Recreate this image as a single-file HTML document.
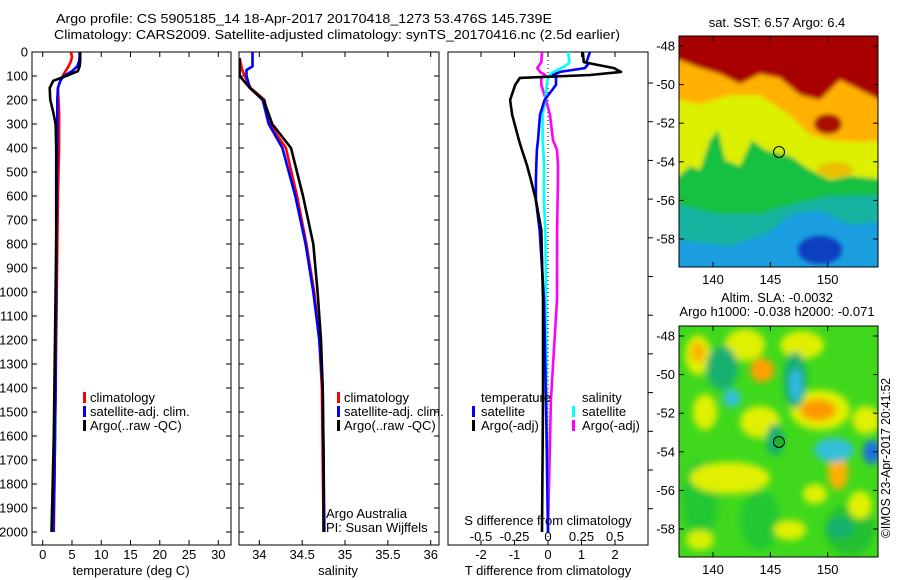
<!DOCTYPE html>
<html><head><meta charset="utf-8"><style>
body{margin:0;background:#fff}
svg{display:block;font-family:"Liberation Sans",sans-serif;font-size:13px}
</style></head><body>
<svg id="fig" width="900" height="580" viewBox="0 0 900 580" xmlns="http://www.w3.org/2000/svg">
<defs>
<filter id="b3" x="-10%" y="-10%" width="120%" height="120%"><feGaussianBlur stdDeviation="2"/></filter>
<filter id="b6" x="-50%" y="-50%" width="200%" height="200%"><feGaussianBlur stdDeviation="3.5"/></filter>
<clipPath id="c1"><rect x="679" y="36" width="199" height="231"/></clipPath>
<clipPath id="c2"><rect x="679" y="326" width="199" height="231"/></clipPath>
<clipPath id="p1"><rect x="32" y="52" width="199" height="493"/></clipPath>
<clipPath id="p2"><rect x="239" y="52" width="200" height="493"/></clipPath>
<clipPath id="p3"><rect x="448" y="52" width="200" height="493"/></clipPath>
</defs>
<text x="56" y="23" textLength="496" lengthAdjust="spacingAndGlyphs">Argo profile: CS 5905185_14 18-Apr-2017 20170418_1273 53.476S 145.739E</text>
<text x="54" y="39" textLength="566" lengthAdjust="spacingAndGlyphs">Climatology: CARS2009. Satellite-adjusted climatology: synTS_20170416.nc (2.5d earlier)</text>

<!-- SST map -->
<g clip-path="url(#c1)">
<rect x="679" y="36" width="199" height="231" fill="#1a9ee0"/>
<g filter="url(#b3)">
<polygon fill="#12b4a0" points="670,30 890,30 890,220 850,225 820,210 790,215 770,232 730,246 679,240 670,240"/>
<polygon fill="#14c040" points="670,30 890,30 890,195 830,196 800,202 760,214 720,214 679,205 670,205"/>
<polygon fill="#dcf000" points="670,30 890,30 890,180 850,176 830,180 810,170 790,156 765,150 752,140 740,166 725,160 718,130 710,140 700,170 690,166 679,176 670,176"/>
<polygon fill="#ffb000" points="670,30 890,30 890,140 860,142 830,140 810,135 790,115 760,95 730,95 700,104 679,100 670,100"/>
<polygon fill="#a80000" points="670,30 890,30 890,105 860,90 840,80 820,100 800,95 780,78 760,74 740,84 720,74 700,68 679,60 670,60"/>
<ellipse cx="828" cy="124" rx="14" ry="10" fill="#a81000"/>
<ellipse cx="835" cy="170" rx="18" ry="8" fill="#f0a000" opacity="0.6"/>
<ellipse cx="820" cy="250" rx="22" ry="14" fill="#0a40c0"/>
</g>
</g>
<rect x="679" y="36" width="199" height="231" fill="none" stroke="#000"/>
<circle cx="779" cy="152" r="5.5" fill="none" stroke="#000"/>
<text x="777" y="27" text-anchor="middle">sat. SST: 6.57 Argo: 6.4</text>

<!-- SLA map -->
<g clip-path="url(#c2)">
<rect x="679" y="326" width="199" height="231" fill="#40d81c"/>
<g filter="url(#b6)">
<ellipse cx="700" cy="500" rx="18" ry="40" fill="#20c830"/>
<ellipse cx="760" cy="520" rx="20" ry="30" fill="#20c830"/>
<ellipse cx="850" cy="530" rx="25" ry="25" fill="#20c030"/>
<ellipse cx="698" cy="355" rx="13" ry="20" fill="#e0f000"/><ellipse cx="698" cy="352" rx="7" ry="10" fill="#ffb000"/>
<ellipse cx="745" cy="345" rx="20" ry="16" fill="#e0f000"/>
<ellipse cx="762" cy="370" rx="12" ry="12" fill="#ffa000"/>
<ellipse cx="802" cy="345" rx="22" ry="14" fill="#e0f000"/>
<ellipse cx="820" cy="410" rx="30" ry="20" fill="#e0f000"/>
<ellipse cx="818" cy="410" rx="18" ry="11" fill="#ff9800"/>
<ellipse cx="760" cy="422" rx="20" ry="16" fill="#e0f000"/>
<ellipse cx="705" cy="412" rx="12" ry="18" fill="#e0f000"/>
<ellipse cx="730" cy="478" rx="40" ry="16" fill="#e0f000"/>
<ellipse cx="838" cy="472" rx="10" ry="18" fill="#ffb000"/>
<ellipse cx="815" cy="494" rx="12" ry="10" fill="#e0f000"/>
<ellipse cx="866" cy="420" rx="14" ry="14" fill="#e0f000"/>
<ellipse cx="790" cy="530" rx="16" ry="10" fill="#e0f000"/>
<ellipse cx="700" cy="540" rx="14" ry="10" fill="#d8f000"/>
<ellipse cx="860" cy="505" rx="12" ry="14" fill="#e0f000"/>
<ellipse cx="722" cy="368" rx="16" ry="22" fill="#14b070"/><ellipse cx="732" cy="398" rx="9" ry="9" fill="#30c0d8"/>
<ellipse cx="795" cy="380" rx="12" ry="28" fill="#14b070"/><ellipse cx="796" cy="385" rx="6" ry="16" fill="#30b8e8"/>
<ellipse cx="834" cy="450" rx="20" ry="12" fill="#30c0d8"/>
<ellipse cx="872" cy="452" rx="9" ry="12" fill="#1a70e0"/>
<ellipse cx="775" cy="440" rx="9" ry="16" fill="#14b070"/>
<ellipse cx="840" cy="528" rx="14" ry="10" fill="#14b070"/>
</g>
</g>
<rect x="679" y="326" width="199" height="231" fill="none" stroke="#000"/>
<circle cx="779" cy="442" r="5.5" fill="#20b030" stroke="#000"/>
<text x="777" y="302" text-anchor="middle">Altim. SLA: -0.0032</text>
<text x="777" y="316" text-anchor="middle">Argo h1000: -0.038 h2000: -0.071</text>
<text transform="translate(890,538) rotate(-90)" textLength="160" lengthAdjust="spacingAndGlyphs">©IMOS 23-Apr-2017 20:41:52</text>

<g id="plots"></g>

<!-- legends -->
<g>
<rect x="83" y="392" width="3" height="11" fill="#f00"/><text x="90" y="402">climatology</text>
<rect x="83" y="406" width="3" height="11" fill="#00f"/><text x="90" y="416">satellite-adj. clim.</text>
<rect x="83" y="420" width="3" height="11" fill="#000"/><text x="90" y="430">Argo(..raw -QC)</text>
</g>
<g>
<rect x="337" y="392" width="3" height="11" fill="#f00"/><text x="344" y="402">climatology</text>
<rect x="337" y="406" width="3" height="11" fill="#00f"/><text x="344" y="416">satellite-adj. clim.</text>
<rect x="337" y="420" width="3" height="11" fill="#000"/><text x="344" y="430">Argo(..raw -QC)</text>
</g>
<text x="326" y="518">Argo Australia</text>
<text x="326" y="532">PI: Susan Wijffels</text>
<g>
<text x="481" y="402">temperature</text><text x="582" y="402">salinity</text>
<rect x="472" y="406" width="3" height="11" fill="#00f"/><text x="481" y="416">satellite</text>
<rect x="472" y="420" width="3" height="11" fill="#000"/><text x="481" y="430">Argo(-adj)</text>
<rect x="572" y="406" width="3" height="11" fill="#0ff"/><text x="582" y="416">satellite</text>
<rect x="572" y="420" width="3" height="11" fill="#f0f"/><text x="582" y="430">Argo(-adj)</text>
</g>
<text x="548" y="525" text-anchor="middle">S difference from climatology</text>
<text x="131" y="575" text-anchor="middle">temperature (deg C)</text>
<text x="338" y="575" text-anchor="middle">salinity</text>
<text x="548" y="575" text-anchor="middle">T difference from climatology</text>
</svg>
<script>
// ---- data ----
const tDepth = [0,20,40,60,80,100,120,150,200,250,300,400,500,600,800,1000,1200,1400,1600,1800,2000];
const tArgo  = [6.4,6.4,6.4,6.3,6.0,4.0,1.8,1.2,1.3,1.8,2.2,2.3,2.3,2.3,2.3,2.2,2.1,2.0,1.9,1.7,1.5];
const tClim  = [4.8,5.0,4.8,4.4,3.9,3.4,3.0,2.6,2.7,2.8,2.8,2.8,2.7,2.6,2.5,2.4,2.3,2.2,2.1,2.0,1.9];
const tSat   = [6.3,6.3,6.2,5.9,5.0,3.6,3.0,2.6,2.5,2.5,2.5,2.5,2.4,2.4,2.3,2.3,2.2,2.2,2.1,2.0,1.8];
const sDepth = [25,75,100,150,200,300,400,600,800,1000,1200,1400,1700,2000];
const sArgo  = [33.77,33.77,33.77,33.89,34.05,34.15,34.37,34.51,34.63,34.68,34.72,34.74,34.75,34.75];
const sClim  = [33.77,33.80,33.83,33.9,34.06,34.12,34.31,34.44,34.55,34.64,34.70,34.73,34.74,34.75];
const sSatD  = [0,60,75,100,150,200,300,400,600,800,1000,1200,1400,1700,2000];
const sSat   = [33.92,33.92,33.85,33.85,33.89,34.04,34.11,34.27,34.42,34.54,34.63,34.70,34.74,34.75,34.76];
const dDepth = [0,42,50,67,83,96,108,137,200,262,367,408,471,533,617,742,1033,1450,2000];
const dTArgo = [1.04,1.07,1.35,1.97,2.18,1.25,-0.84,-0.98,-1.13,-1.07,-0.87,-0.78,-0.63,-0.51,-0.36,-0.2,-0.15,-0.15,-0.18];
const dTSat  = [1.25,1.15,1.2,1.1,0.36,0.15,0.24,0.24,-0.1,-0.24,-0.3,-0.33,-0.35,-0.36,-0.36,-0.25,-0.12,-0.06,0.0];
const dSSat  = [0.15,0.16,0.15,0.1,0.04,0.01,0.0,-0.01,-0.02,-0.04,-0.04,-0.035,-0.03,-0.03,-0.03,-0.02,-0.015,-0.01,0.0];
const dSArgo = [-0.045,-0.05,-0.06,-0.08,-0.06,-0.02,-0.05,-0.05,-0.015,0.015,0.037,0.067,0.075,0.075,0.072,0.068,0.067,0.022,0.0];
const depthTicks = [0,100,200,300,400,500,600,700,800,900,1000,1100,1200,1300,1400,1500,1600,1700,1800,1900,2000];
const tTicks = [0,5,10,15,20,25,30];
const sTicks = [34,34.5,35,35.5,36];
const sTickLabels = ["34","34.5","35","35.5","36"];
const dtTicks = [-2,-1,0,1,2];
const dsTicks = [-0.5,-0.25,0,0.25,0.5];

// ---- scales ----
const Y = d => 52 + d*0.24;
const XT = t => 32 + (t+1.83)*5.853;
const XS = s => 239 + (s-33.763)*85.7;
const XDT = v => 548 + v*33.5;
const XDS = v => 548 + v*134;

const NS="http://www.w3.org/2000/svg";
const root=document.getElementById('plots');
function el(tag,attrs,parent){const e=document.createElementNS(NS,tag);for(const k in attrs)e.setAttribute(k,attrs[k]);(parent||root).appendChild(e);return e;}
function txt(x,y,s,anchor,parent){const t=el('text',{x:x,y:y,'text-anchor':anchor||'middle'},parent);t.textContent=s;return t;}

function panel(x0,w,name){
  const g=el('g',{});
  
  
  el('rect',{x:x0,y:52,width:w,height:493,fill:'none',stroke:'#000'},g);
  return g;
}
function line(g,xs,ds,fx,color,clip,name){
  const pts=xs.map((v,i)=>fx(v).toFixed(1)+','+Y(ds[i]).toFixed(1)).join(' ');
  const p=el('polyline',{points:pts,fill:'none',stroke:color,'stroke-width':2.6,'stroke-linejoin':'round','clip-path':'url(#'+clip+')'},g);
  
  
}

// panel 1
const g1=panel(32,199,'temperature-panel');
depthTicks.forEach(d=>{el('line',{x1:32,x2:37,y1:Y(d),y2:Y(d),stroke:'#000'},g1);el('line',{x1:226,x2:231,y1:Y(d),y2:Y(d),stroke:'#000'},g1);txt(28,Y(d)+4.5,String(d),'end',g1);});
tTicks.forEach(t=>{el('line',{x1:XT(t),x2:XT(t),y1:52,y2:57,stroke:'#000'},g1);el('line',{x1:XT(t),x2:XT(t),y1:540,y2:545,stroke:'#000'},g1);txt(XT(t),559,String(t),'middle',g1);});
line(g1,tClim,tDepth,XT,'#f00','p1','temperature-climatology-line');
line(g1,tSat,tDepth,XT,'#00f','p1','temperature-satellite-line');
line(g1,tArgo,tDepth,XT,'#000','p1','temperature-argo-line');

// panel 2
const g2=panel(239,200,'salinity-panel');
depthTicks.forEach(d=>{el('line',{x1:239,x2:244,y1:Y(d),y2:Y(d),stroke:'#000'},g2);el('line',{x1:434,x2:439,y1:Y(d),y2:Y(d),stroke:'#000'},g2);});
sTicks.forEach((s,i)=>{el('line',{x1:XS(s),x2:XS(s),y1:52,y2:57,stroke:'#000'},g2);el('line',{x1:XS(s),x2:XS(s),y1:540,y2:545,stroke:'#000'},g2);txt(XS(s),559,sTickLabels[i],'middle',g2);});
line(g2,sClim,sDepth,XS,'#f00','p2','salinity-climatology-line');
line(g2,sSat,sSatD,XS,'#00f','p2','salinity-satellite-line');
line(g2,sArgo,sDepth,XS,'#000','p2','salinity-argo-line');

// panel 3
const g3=panel(448,200,'difference-panel');
el('line',{x1:XDT(0),x2:XDT(0),y1:52,y2:545,stroke:'#000','stroke-dasharray':'1,3'},g3);
dtTicks.forEach(t=>{el('line',{x1:XDT(t),x2:XDT(t),y1:52,y2:57,stroke:'#000'},g3);el('line',{x1:XDT(t),x2:XDT(t),y1:540,y2:545,stroke:'#000'},g3);txt(XDT(t),559,String(t),'middle',g3);});
dsTicks.forEach(s=>{txt(XDS(s),541,String(s),'middle',g3);});
for(let y=83;y<545;y+=38.7){el('line',{x1:648,x2:653,y1:y,y2:y,stroke:'#000'},g3);}
line(g3,dSArgo,dDepth,XDS,'#f0f','p3','salinity-diff-argo-line');
line(g3,dSSat,dDepth,XDS,'#0ff','p3','salinity-diff-satellite-line');
line(g3,dTSat,dDepth,XDT,'#00f','p3','temperature-diff-satellite-line');
line(g3,dTArgo,dDepth,XDT,'#000','p3','temperature-diff-argo-line');

// map axes
function mapAxes(y0,name){
  const g=el('g',{});
  
  
  [-48,-50,-52,-54,-56,-58].forEach(l=>{const y=y0+10+(-48-l)*19.3;el('line',{x1:679,x2:684,y1:y,y2:y,stroke:'#000'},g);el('line',{x1:873,x2:878,y1:y,y2:y,stroke:'#000'},g);txt(675,y+4.5,String(l),'end',g);});
  [140,145,150].forEach(lo=>{const x=713+(lo-140)*11.47;el('line',{x1:x,x2:x,y1:y0,y2:y0+5,stroke:'#000'},g);el('line',{x1:x,x2:x,y1:y0+226,y2:y0+231,stroke:'#000'},g);txt(x,y0+248,String(lo),'middle',g);});
}
mapAxes(36,'sst-map-axes');
mapAxes(326,'sla-map-axes');
</script>
</body></html>
